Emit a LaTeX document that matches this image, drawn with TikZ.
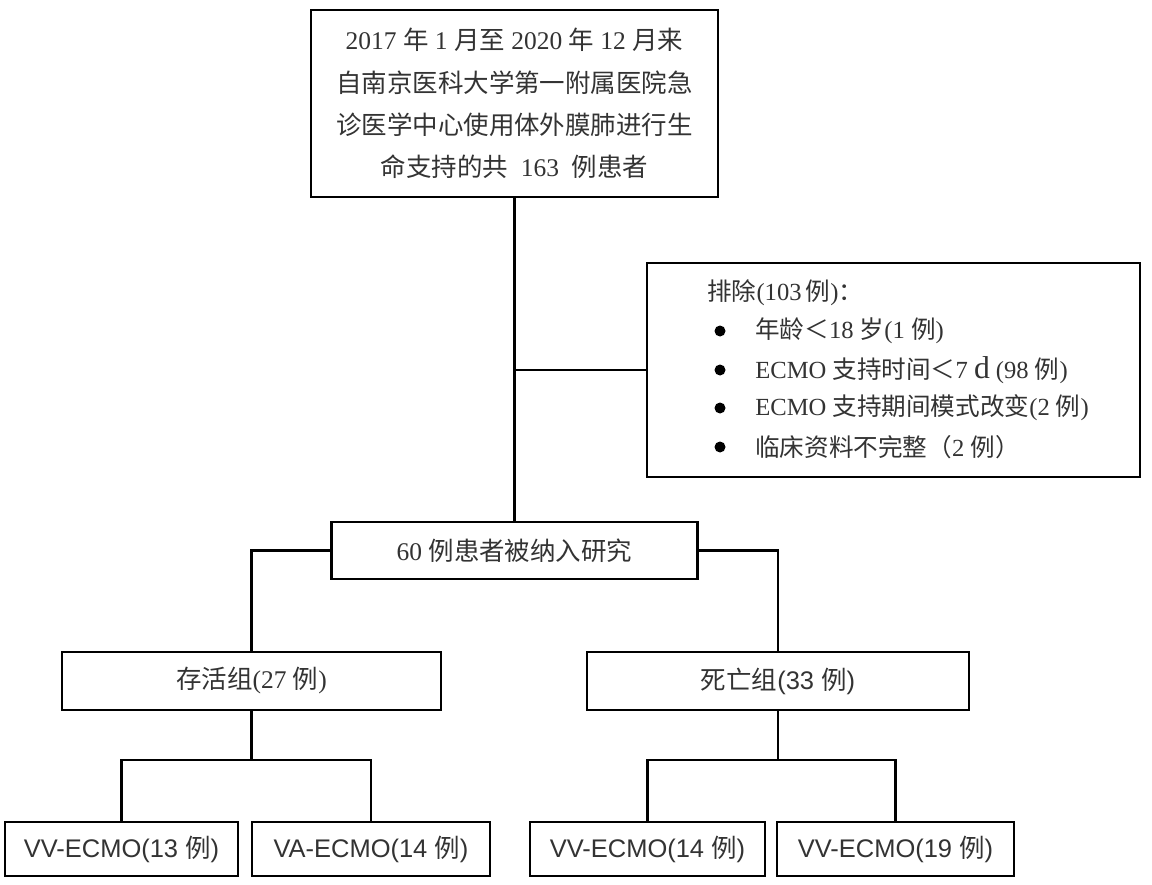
\documentclass[tikz,border=0pt]{standalone}
\usepackage{fontspec}
\setmainfont{Liberation Serif}
\newfontfamily\cjk{Noto Sans CJK SC}
\newfontfamily\sansf{Liberation Sans}
\newcommand\zh[1]{{\cjk #1}}
\newdimen\pxu \pxu=0.02cm
\tikzset{
  box/.style={draw=black, line width=1.3pt, inner sep=0pt, align=center, text=black!80},
  conn/.style={draw=black, line width=1.3pt},
  serifbox/.style={box, font=\fontsize{14.5}{21}\selectfont},
  sansbox/.style={box, font=\sansf\fontsize{14.5}{18}\selectfont},
  extext/.style={anchor=west, inner sep=0pt, text=black!80, font=\fontsize{14}{16}\selectfont},
  dot/.style={circle, fill=black, inner sep=0pt, minimum size=11\pxu}
}
\begin{document}
\begin{tikzpicture}[x=0.02cm, y=-0.02cm]
\useasboundingbox[fill=white] (0,0) rectangle (1152,885);

% top box
\node[serifbox, minimum width=407\pxu, minimum height=187\pxu] (top) at (514.5,103.5)
 {2017 \zh{年} 1 \zh{月至} 2020 \zh{年} 12 \zh{月来}\\[3pt]
  \zh{自南京医科大学第一附属医院急}\\[3pt]
  \zh{诊医学中心使用体外膜肺进行生}\\[3pt]
  \zh{命支持的共}\ \ 163\ \ \zh{例患者}};

% exclusion box
\node[box, minimum width=493\pxu, minimum height=214\pxu] (excl) at (893.5,370) {};
\node[extext] (ex0) at (707,293) {\zh{排除}(103\,\zh{例})\zh{：}};
\node[dot] (d1) at (720,331) {};
\node[dot] (d2) at (720,370) {};
\node[dot] (d3) at (720,408) {};
\node[dot] (d4) at (720,447) {};
\node[extext] (ex1) at (755,331) {\zh{年龄＜}18 \zh{岁}(1 \zh{例})};
\node[extext] (ex2) at (755,370) {ECMO \zh{支持时间＜}7 {\fontsize{18}{18}\selectfont d} (98 \zh{例})};
\node[extext] (ex3) at (755,408) {ECMO \zh{支持期间模式改变}(2 \zh{例})};
\node[extext] (ex4) at (755,447) {\zh{临床资料不完整（}2 \zh{例）}};

% included
\node[serifbox, minimum width=366\pxu, minimum height=57\pxu] (inc) at (514.5,550.5)
 {60 \zh{例患者被纳入研究}};

% groups
\node[serifbox, minimum width=379\pxu, minimum height=58\pxu] (surv) at (251.5,681)
 {\zh{存活组}(27 \zh{例})};
\node[sansbox, minimum width=382\pxu, minimum height=58\pxu] (dead) at (778,681)
 {\zh{死亡组}(33 \zh{例})};

% bottom boxes
\node[sansbox, minimum width=233\pxu, minimum height=54\pxu] (b1) at (121.5,849) {VV-ECMO(13 \zh{例})};
\node[sansbox, minimum width=238\pxu, minimum height=54\pxu] (b2) at (371,849) {VA-ECMO(14 \zh{例})};
\node[sansbox, minimum width=235\pxu, minimum height=54\pxu] (b3) at (647.5,849) {VV-ECMO(14 \zh{例})};
\node[sansbox, minimum width=237\pxu, minimum height=54\pxu] (b4) at (895.5,849) {VV-ECMO(19 \zh{例})};

% connectors
\coordinate (sj) at (252,760);
\coordinate (dj) at (778,760);
\draw[conn] (top.south) -- (top.south |- inc.north);
\draw[conn] (top.south |- excl.west) -- (excl.west);
\draw[conn] (inc.west) -| (surv.north);
\draw[conn] (inc.east) -| (dead.north);
\draw[conn] (surv.south) -- (surv.south |- sj);
\draw[conn] (b1.north) |- (b2.north |- sj) -- (b2.north);
\draw[conn] (dead.south) -- (dead.south |- dj);
\draw[conn] (b3.north) |- (b4.north |- dj) -- (b4.north);
\end{tikzpicture}
\end{document}
